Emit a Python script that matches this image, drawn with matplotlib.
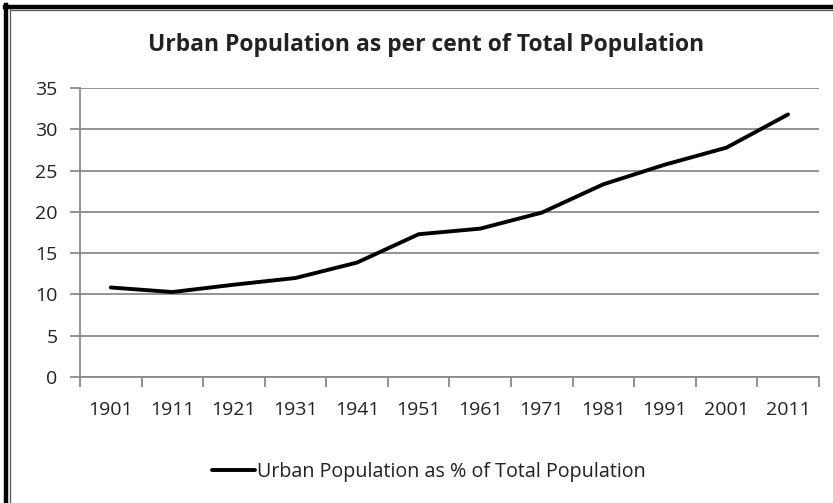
import matplotlib.pyplot as plt
from matplotlib.lines import Line2D

plt.rcParams['font.family'] = ['Open Sans', 'DejaVu Sans']

years = ['1901', '1911', '1921', '1931', '1941', '1951',
         '1961', '1971', '1981', '1991', '2001', '2011']
urban_pct = [10.84, 10.29, 11.18, 11.99, 13.86, 17.29,
             17.97, 19.91, 23.34, 25.72, 27.78, 31.80]
y_ticks = [0, 5, 10, 15, 20, 25, 30, 35]

grid_col = '#8a8a8a'
text_col = '#222222'

fig = plt.figure(figsize=(8.33, 5.03), dpi=100)
ax = fig.add_axes([0.096, 0.2505, 0.887, 0.5745])

x = list(range(len(years)))
line, = ax.plot(x, urban_pct, color='black', linewidth=2.8,
                solid_joinstyle='round', solid_capstyle='round',
                label='Urban Population as % of Total Population')

ax.set_xlim(-0.5, len(years) - 0.5)
ax.set_ylim(0, 35)
ax.set_yticks(y_ticks)
ax.set_xticks(x)
ax.set_xticklabels(years)
ax.set_xticks([i - 0.5 for i in range(len(years) + 1)], minor=True)

ax.grid(axis='y', color=grid_col, linewidth=1.3)
ax.set_axisbelow(True)
for s in ['top', 'right']:
    ax.spines[s].set_visible(False)
for s in ['left', 'bottom']:
    ax.spines[s].set_color(grid_col)
    ax.spines[s].set_linewidth(1.3)

ax.tick_params(axis='y', direction='out', length=7, width=1.3, color=grid_col,
               labelsize=14, labelcolor=text_col, pad=9)
ax.tick_params(axis='x', which='major', length=0, labelsize=14,
               labelcolor=text_col, pad=17)
ax.tick_params(axis='x', which='minor', direction='out', length=7,
               width=1.3, color=grid_col)

fig.text(0.511, 0.91, 'Urban Population as per cent of Total Population',
         ha='center', va='center', fontsize=16.5, fontweight='bold',
         color=text_col)

fig.legend(handles=[line], loc='center', bbox_to_anchor=(0.515, 0.062),
           frameon=False, fontsize=14.2, handlelength=2.2, handletextpad=0.1,
           labelcolor=text_col)

# outer double frame (top and left)
fig.add_artist(Line2D([0.006, 1.0], [0.987, 0.987], transform=fig.transFigure,
                      color='black', linewidth=3.2))
fig.add_artist(Line2D([0.0078, 0.0078], [0.0, 0.99], transform=fig.transFigure,
                      color='black', linewidth=3.2))
fig.add_artist(Line2D([0.012, 1.0], [0.9805, 0.9805], transform=fig.transFigure,
                      color='#555555', linewidth=0.9))
fig.add_artist(Line2D([0.0118, 0.0118], [0.0, 0.982], transform=fig.transFigure,
                      color='#555555', linewidth=0.9))

fig.savefig('out.png', dpi=100)
